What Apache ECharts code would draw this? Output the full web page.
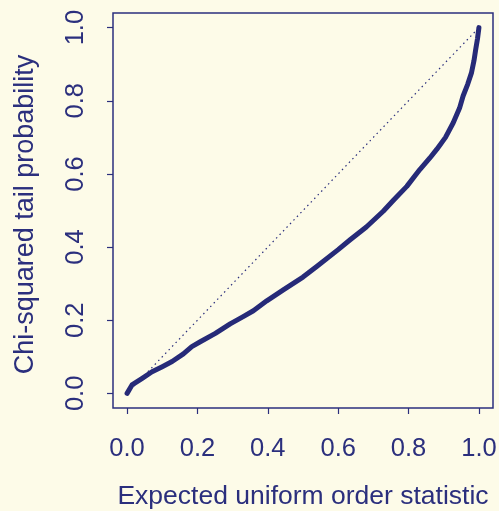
<!DOCTYPE html>
<html>
<head>
<meta charset="utf-8">
<script src="https://cdn.jsdelivr.net/npm/echarts@6/dist/echarts.min.js"></script>
<style>
  html, body { margin: 0; padding: 0; background: #fdfbe8; }
  #chart { width: 499px; height: 511px; }
</style>
</head>
<body>
<div id="chart"></div>
<script>
// expected uniform order statistic (x) vs chi-squared tail probability (y)
var expectedUniform = [0, 0.014, 0.043, 0.071, 0.10, 0.128, 0.16, 0.184, 0.208, 0.251,
  0.293, 0.330, 0.359, 0.397, 0.444, 0.50, 0.539, 0.60, 0.634, 0.68,
  0.728, 0.757, 0.795, 0.832, 0.860, 0.880, 0.905, 0.927, 0.945, 0.955,
  0.968, 0.979, 0.986, 0.991, 0.996, 1.0];
var tailProb = [0, 0.023, 0.041, 0.059, 0.073, 0.087, 0.108, 0.128, 0.141, 0.164,
  0.190, 0.210, 0.226, 0.253, 0.283, 0.318, 0.347, 0.393, 0.420, 0.455,
  0.498, 0.528, 0.566, 0.612, 0.643, 0.667, 0.700, 0.740, 0.780, 0.813,
  0.845, 0.877, 0.910, 0.941, 0.970, 1.0];
// reference line y = x
var diagX = [0, 1];
var diagY = [0, 1];
var tickValues = [0, 0.2, 0.4, 0.6, 0.8, 1.0];

var navy = '#2b2f7d';
var font = 'Liberation Sans, Arial, sans-serif';

var curve = [];
for (var i = 0; i < expectedUniform.length; i++) {
  curve.push([expectedUniform[i], tailProb[i]]);
}
var diag = [];
for (var j = 0; j < diagX.length; j++) {
  diag.push([diagX[j], diagY[j]]);
}

var chart = echarts.init(document.getElementById('chart'));
var option = {
  backgroundColor: '#fdfbe8',
  animation: false,
  grid: {
    left: 113, right: 6, top: 13, bottom: 103,
    outerBoundsMode: 'none', containLabel: false,
    show: true, borderColor: navy, borderWidth: 1.5, backgroundColor: 'transparent'
  },
  xAxis: {
    type: 'value', min: -0.04, max: 1.04,
    name: 'Expected uniform order statistic',
    nameLocation: 'middle', nameGap: 75,
    nameTextStyle: { color: navy, fontSize: 26.5, fontFamily: font },
    axisLine: { show: false, onZero: false },
    splitLine: { show: false },
    axisTick: { show: true, inside: false, customValues: tickValues, length: 6, lineStyle: { color: navy, width: 1.2 } },
    axisLabel: {
      customValues: tickValues, color: navy, fontSize: 25.5, fontFamily: font, margin: 28,
      formatter: function (v) { return v.toFixed(1); }
    }
  },
  yAxis: {
    type: 'value', min: -0.04, max: 1.04,
    name: 'Chi-squared tail probability',
    nameLocation: 'middle', nameGap: 74,
    nameTextStyle: { color: navy, fontSize: 27, fontFamily: font, padding: [0, 8, 0, 0] },
    axisLine: { show: false, onZero: false },
    splitLine: { show: false },
    axisTick: { show: true, inside: false, customValues: tickValues, length: 6, lineStyle: { color: navy, width: 1.2 } },
    axisLabel: {
      customValues: tickValues, color: navy, fontSize: 25.5, fontFamily: font, margin: 24, rotate: 90,
      formatter: function (v) { return v.toFixed(1); }
    }
  },
  series: [
    {
      type: 'line', data: diag, showSymbol: false, z: 1,
      lineStyle: { color: navy, width: 1.2, type: [1.5, 3.5] }
    },
    {
      type: 'line', data: curve, showSymbol: false, z: 2,
      lineStyle: { color: '#262a78', width: 5, cap: 'round', join: 'round' }
    }
  ]
};
chart.setOption(option);
</script>
</body>
</html>
